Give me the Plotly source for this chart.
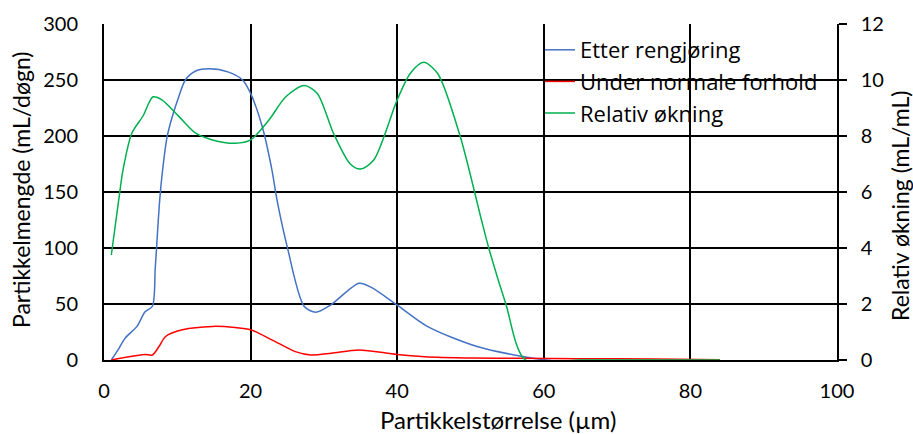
import plotly.graph_objects as go

# Particle size (µm) and measured curves
x_etter = [1, 2, 2.9, 4.5, 5.6, 6.6, 7.0, 7.6, 8.0, 8.6, 9.3, 10.2, 11.1, 12.5, 14.3, 17.0, 18.9, 20,
           21.6, 22.9, 23.6, 25.0, 27.3, 28.9, 30.9, 34.8, 36.4, 40, 44.1, 50.9, 57.3, 62.7, 70, 78, 84]
y_etter = [0, 10, 19.6, 30, 43, 48, 83, 143, 170, 199, 217, 235, 250, 258, 260, 257, 250, 238,
           208, 170, 143, 101, 48, 42.6, 49, 68.5, 65, 49, 30, 12, 3, -1.5, -1.5, -0.5, 0]

x_normal = [1, 3, 5.0, 5.7, 6.6, 7.5, 8.4, 10.7, 14.8, 17.9, 20, 22.9, 26.1, 28.2, 31, 34.8, 40,
            45.5, 50, 56.4, 65, 75, 84]
y_normal = [0, 2.5, 4.5, 5, 4.5, 12, 21, 27, 30, 29, 27, 18, 7.5, 4.5, 6, 9, 5,
            2.4, 1.8, 1.5, 1.2, 0.8, 0.3]

x_rel = [1.0, 2.0, 2.6, 3.8, 5.4, 6.1, 6.7, 7.9, 10.2, 12.5, 14.8, 17.9, 20, 22.5, 24.8, 27.3,
         29.1, 31.3, 33.6, 35.0, 36.8, 40, 41.8, 43.6, 45.5, 48.6, 51.4, 52.5, 54.8, 57.5, 65, 75, 84]
y_rel = [3.75, 5.7, 6.8, 8.1, 8.75, 9.17, 9.4, 9.29, 8.7, 8.1, 7.86, 7.74, 7.86, 8.57, 9.4, 9.8,
         9.52, 8.1, 7.0, 6.82, 7.14, 9.29, 10.24, 10.63, 10.24, 7.98, 5.1, 3.99, 2.02, 0, 0, 0, 0]

x_ticks = [0, 20, 40, 60, 80, 100]
y_ticks = [0, 50, 100, 150, 200, 250, 300]
y2_ticks = [0, 2, 4, 6, 8, 10, 12]

FONT = "Lato"
fs = 20

# plot area in pixels
L, R, T, B = 104, 76, 24, 74
W, H = 913, 434
pw, ph = W - L - R, H - T - B


def px_x(px):
    return (px - L) / pw


def px_y(py):
    return (H - B - py) / ph


fig = go.Figure()
fig.add_trace(go.Scatter(x=x_etter, y=y_etter, name="Etter rengjøring", mode="lines",
                         line=dict(color="#4472C4", width=1.5, shape="spline", smoothing=0.8)))
fig.add_trace(go.Scatter(x=x_normal, y=y_normal, name="Under normale forhold", mode="lines",
                         line=dict(color="#FF0000", width=1.5, shape="spline", smoothing=0.8)))
fig.add_trace(go.Scatter(x=x_rel, y=y_rel, name="Relativ økning", mode="lines", yaxis="y2",
                         line=dict(color="#00B050", width=1.5, shape="spline", smoothing=0.8)))

fig.update_layout(
    width=W, height=H,
    margin=dict(l=L, r=R, t=T, b=B),
    paper_bgcolor="white", plot_bgcolor="white",
    font=dict(family=FONT, size=fs, color="black"),
    showlegend=True,
    legend=dict(x=px_x(540), y=px_y(29), xanchor="left", yanchor="top", bgcolor="rgba(0,0,0,0)",
                traceorder="normal", font=dict(family="Open Sans", size=22)),
    xaxis=dict(range=[0, 100], tickvals=x_ticks, showgrid=True, gridcolor="black", gridwidth=1.5,
               showline=True, linecolor="black", linewidth=2, zeroline=False, ticks="",
               ticklabelstandoff=12),
    yaxis=dict(range=[0, 300], tickvals=y_ticks, showgrid=True, gridcolor="black", gridwidth=1.5,
               showline=True, linecolor="black", linewidth=2, zeroline=False, ticks="",
               ticklabelstandoff=20),
    yaxis2=dict(range=[0, 12], tickvals=y2_ticks, overlaying="y", side="right", showgrid=False,
                showline=True, linecolor="black", linewidth=1.5, zeroline=False,
                ticks="outside", ticklen=8, tickcolor="black", tickwidth=1.5,
                ticklabelstandoff=10),
    annotations=[
        dict(text="Partikkelstørrelse (µm)", xref="paper", yref="paper",
             x=px_x(498), y=px_y(419), xanchor="center", yanchor="middle", showarrow=False,
             font=dict(family=FONT, size=24, color="black")),
        dict(text="Partikkelmengde (mL/døgn)", textangle=-90, xref="paper", yref="paper",
             x=px_x(21), y=px_y(190), xanchor="center", yanchor="middle", showarrow=False,
             font=dict(family=FONT, size=23, color="black")),
        dict(text="Relativ økning (mL/mL)", textangle=-90, xref="paper", yref="paper",
             x=px_x(900), y=px_y(206), xanchor="center", yanchor="middle", showarrow=False,
             font=dict(family=FONT, size=23, color="black")),
    ],
)

fig.write_html("out.html")
